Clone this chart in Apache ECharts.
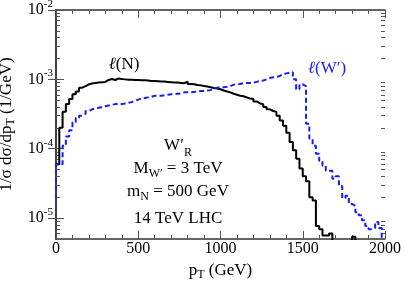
<!DOCTYPE html>
<html><head><meta charset="utf-8">
<script src="https://cdn.jsdelivr.net/npm/echarts@6/dist/echarts.min.js"></script>
<style>html,body{margin:0;padding:0;background:#fff}#c{width:405px;height:281px}</style>
</head><body><div id="c"></div><script>
// ---- data ----
const binWidth = 20; // GeV, bins from 0 to 2000
const xTicks = [0, 500, 1000, 1500, 2000];
const yTickExps = [-5, -4, -3, -2];
const yMinValue = 5e-6;
const yMaxValue = 1e-2;
// l(N) histogram, 100 bins of 20 GeV
const lepN = [
 6.0e-5,2.0e-4,3.4e-4,4.4e-4,5.2e-4,6.1e-4,6.7e-4,7.6e-4,8.0e-4,8.5e-4,
 8.7e-4,8.9e-4,9.0e-4,9.1e-4,9.2e-4,9.8e-4,1.01e-3,9.8e-4,1.03e-3,1.01e-3,
 1.0e-3,9.9e-4,9.9e-4,9.8e-4,9.8e-4,9.7e-4,9.7e-4,9.6e-4,9.5e-4,9.5e-4,
 9.4e-4,9.3e-4,9.3e-4,9.2e-4,9.1e-4,9.0e-4,9.0e-4,8.9e-4,8.8e-4,9.3e-4,
 8.6e-4,8.5e-4,8.3e-4,8.2e-4,8.0e-4,7.9e-4,7.7e-4,7.5e-4,7.4e-4,7.2e-4,
 6.9e-4,6.7e-4,6.5e-4,6.2e-4,6.0e-4,5.8e-4,5.7e-4,5.5e-4,5.3e-4,5.2e-4,
 4.8e-4,4.5e-4,4.4e-4,4.0e-4,3.7e-4,3.5e-4,3.4e-4,3.0e-4,2.55e-4,2.15e-4,
 1.7e-4,1.25e-4,9.5e-5,7.2e-5,5.2e-5,4.0e-5,3.4e-5,2.0e-5,1.8e-5,7.7e-6,
 6.9e-6,5.6e-6,5.6e-6,6.0e-6,3e-6,3e-6,3e-6,3e-6,3e-6,3e-6,
 5.4e-6,3e-6,3e-6,3e-6,3e-6,3e-6,3e-6,3e-6,3e-6,3e-6
];
// l(W') histogram, 100 bins of 20 GeV
const lepWStart = 1.9e-5;
const lepW = [
 6.0e-5,6.0e-5,1.1e-4,1.5e-4,1.85e-4,2.4e-4,2.8e-4,3.0e-4,3.2e-4,3.5e-4,
 3.7e-4,3.8e-4,3.9e-4,4.0e-4,4.1e-4,4.2e-4,4.3e-4,4.4e-4,4.4e-4,4.4e-4,
 4.5e-4,4.6e-4,4.7e-4,4.9e-4,5.1e-4,5.3e-4,5.4e-4,5.5e-4,5.6e-4,5.8e-4,
 5.8e-4,5.8e-4,5.9e-4,6.0e-4,6.1e-4,6.1e-4,6.2e-4,6.3e-4,6.5e-4,6.5e-4,
 6.5e-4,6.6e-4,6.7e-4,6.8e-4,6.8e-4,6.9e-4,7.0e-4,7.4e-4,7.6e-4,7.7e-4,
 7.7e-4,7.8e-4,8.0e-4,8.4e-4,8.5e-4,8.6e-4,8.8e-4,8.9e-4,8.9e-4,9.0e-4,
 9.2e-4,9.5e-4,9.6e-4,1.0e-3,1.05e-3,1.07e-3,1.08e-3,1.12e-3,1.18e-3,1.22e-3,
 1.25e-3,1.27e-3,1.0e-3,7.2e-4,8.5e-4,8.0e-4,2.3e-4,1.4e-4,1.1e-4,8.5e-5,
 6.7e-5,5.7e-5,4.8e-5,4.8e-5,3.7e-5,4.0e-5,2.9e-5,1.95e-5,2.1e-5,1.6e-5,
 1.5e-5,1.22e-5,1.1e-5,9.3e-6,7.7e-6,6.9e-6,7.2e-6,8.8e-6,7.2e-6,5.3e-6
];

// ---- build ----
const L = Math.log10;
function stepPoints(vals, start) {
  const pts = [];
  if (start != null) pts.push([0, L(start)]);
  vals.forEach((v, i) => {
    const lv = L(v);
    pts.push([i * binWidth, lv]);
    pts.push([(i + 1) * binWidth, lv]);
  });
  return pts;
}
const yMin = L(yMinValue), yMax = L(yMaxValue);
const minorY = [];
for (let n = -6; n <= -3; n++) for (let k = 2; k <= 9; k++) {
  const v = L(k) + n;
  if (v > yMin && v < yMax) minorY.push(v);
}
const FONT = '"Liberation Serif","Times New Roman",serif';
const AX = '#333';
const BLUE = '#1a1aff';

function yAxisBase(pos, ticks, len, withLabels, withLine) {
  return {
    type: 'value', min: yMin, max: yMax, position: pos,
    axisLine: { show: withLine, lineStyle: { color: AX, width: 1.5 } },
    axisTick: { show: true, inside: true, length: len, customValues: ticks, lineStyle: { color: '#555', width: 1 } },
    axisLabel: withLabels ? {
      show: true, customValues: yTickExps, margin: 3,
      formatter: v => '{b|10}{s|' + Math.round(v) + '}',
      rich: {
        b: { fontFamily: FONT, fontSize: 16, color: '#000' },
        s: { fontFamily: FONT, fontSize: 11, color: '#000', padding: [0, 0, 12, 0] }
      }
    } : { show: false },
    splitLine: { show: false }
  };
}
function xAxisBase(pos, withLabels) {
  return {
    type: 'value', min: 0, max: 2000, interval: 500, position: pos,
    axisLine: { show: true, onZero: false, lineStyle: { color: AX, width: 1.5 } },
    axisTick: { show: true, inside: true, length: 8, lineStyle: { color: '#555', width: 1 } },
    minorTick: { show: true, splitNumber: 5, length: 4, lineStyle: { color: '#555', width: 1 } },
    axisLabel: withLabels ? { show: true, margin: 2, fontFamily: FONT, fontSize: 16, color: '#000',
      customValues: xTicks, formatter: v => String(v) } : { show: false },
    splitLine: { show: false }
  };
}

const xa0 = xAxisBase('bottom', true);
xa0.name = 'p{sub|T} (GeV)';
xa0.nameLocation = 'middle';
xa0.nameGap = 22;
xa0.nameTextStyle = { fontFamily: FONT, fontSize: 17, color: '#000',
  rich: { sub: { fontFamily: FONT, fontSize: 12, color: '#000', padding: [8, 0, 0, 0] } } };
const ya0 = yAxisBase('left', yTickExps, 8, true, true);
ya0.name = '1/σ dσ/dp{sub|T} (1/GeV)';
ya0.nameLocation = 'middle';
ya0.nameGap = 36;
ya0.nameRotate = 90;
ya0.nameTextStyle = { fontFamily: FONT, fontSize: 17, color: '#000',
  rich: { sub: { fontFamily: FONT, fontSize: 12, color: '#000', padding: [8, 0, 0, 0] } } };

const chart = echarts.init(document.getElementById('c'), null, { renderer: 'canvas' });
chart.setOption({
  animation: false,
  backgroundColor: '#fff',
  grid: { left: 56, right: 20, top: 10, bottom: 42, containLabel: false, outerBoundsMode: 'none' },
  xAxis: [xa0, xAxisBase('top', false)],
  yAxis: [
    ya0,
    yAxisBase('right', yTickExps, 8, false, true),
    yAxisBase('left', minorY, 4, false, false),
    yAxisBase('right', minorY, 4, false, false)
  ],
  series: [
    { type: 'line', name: 'l(N)', data: stepPoints(lepN), xAxisIndex: 0, yAxisIndex: 0,
      showSymbol: false, symbol: 'none', clip: true,
      lineStyle: { color: '#000', width: 2 } },
    { type: 'line', name: "l(W')", data: stepPoints(lepW, lepWStart), xAxisIndex: 0, yAxisIndex: 0,
      showSymbol: false, symbol: 'none', clip: true,
      lineStyle: { color: BLUE, width: 2, type: [5, 3] } }
  ],
  graphic: [
    { type: 'text', x: 124, y: 65, style: { text: '{l|ℓ}(N)', fill: '#000', font: '17px ' + FONT,
      align: 'center', verticalAlign: 'middle',
      rich: { l: { fontFamily: FONT, fontSize: 17, fontStyle: 'italic', fill: '#000' } } } },
    { type: 'text', x: 327, y: 69, style: { text: '{l|ℓ}(W′)', fill: BLUE, font: '17px ' + FONT,
      align: 'center', verticalAlign: 'middle',
      rich: { l: { fontFamily: FONT, fontSize: 17, fontStyle: 'italic', fill: BLUE } } } },
    { type: 'text', x: 178, y: 146, style: { text: 'W′{s|R}', fill: '#000', font: '17px ' + FONT,
      align: 'center', verticalAlign: 'middle',
      rich: { s: { fontFamily: FONT, fontSize: 12, fill: '#000', padding: [14, 0, 0, 0] } } } },
    { type: 'text', x: 178, y: 169, style: { text: 'M{s|W′} = 3 TeV', fill: '#000', font: '17px ' + FONT,
      align: 'center', verticalAlign: 'middle',
      rich: { s: { fontFamily: FONT, fontSize: 12, fill: '#000', padding: [10, 0, 0, 0] } } } },
    { type: 'text', x: 178, y: 192, style: { text: 'm{s|N} = 500 GeV', fill: '#000', font: '17px ' + FONT,
      align: 'center', verticalAlign: 'middle',
      rich: { s: { fontFamily: FONT, fontSize: 12, fill: '#000', padding: [10, 0, 0, 0] } } } },
    { type: 'text', x: 178, y: 219, style: { text: '14 TeV LHC', fill: '#000', font: '17px ' + FONT,
      align: 'center', verticalAlign: 'middle' } }
  ]
});
</script></body></html>
